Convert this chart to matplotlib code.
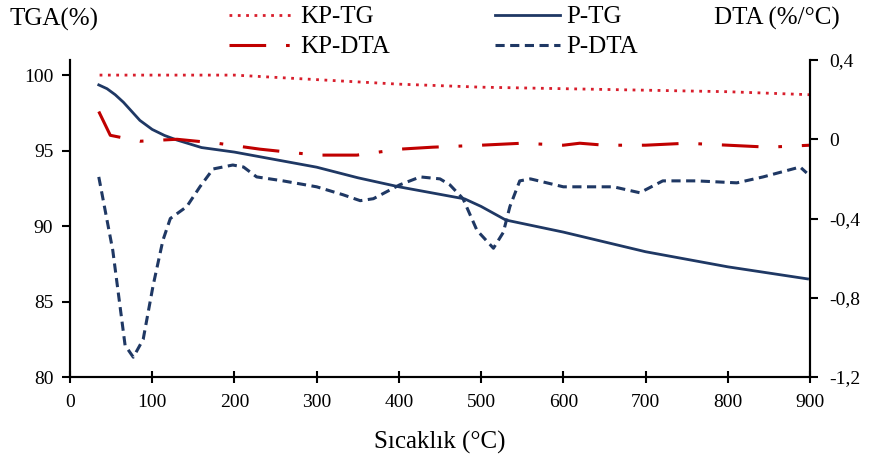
import numpy as np
import matplotlib
matplotlib.use("Agg")
import matplotlib.pyplot as plt

# =========================
# DONNÉES
# =========================
kp_tg_t = [36, 100, 200, 300, 400, 500, 600, 700, 800, 900]
kp_tg_v = [100.0, 100.0, 100.0, 99.7, 99.4, 99.2, 99.1, 99.0, 98.9, 98.7]

p_tg_t = [35, 45, 55, 65, 75, 85, 100, 115, 130, 160, 200, 250, 300, 350,
          400, 450, 480, 500, 530, 600, 700, 800, 897]
p_tg_v = [99.35, 99.1, 98.7, 98.2, 97.6, 97.0, 96.4, 96.0, 95.7, 95.2, 94.9,
          94.4, 93.9, 93.2, 92.6, 92.1, 91.8, 91.3, 90.4, 89.6, 88.3, 87.3,
          86.5]

kp_dta_t = [35, 49, 85, 130, 179, 231, 300, 349, 401, 441, 500, 550, 600,
            620, 650, 700, 750, 800, 850, 900]
kp_dta_v = [0.14, 0.02, -0.01, 0.0, -0.02, -0.05, -0.08, -0.08, -0.05, -0.04,
            -0.03, -0.02, -0.03, -0.02, -0.03, -0.03, -0.02, -0.03, -0.04, -0.03]

p_dta_t = [35, 52, 67, 77, 89, 101, 113, 122, 142, 158, 174, 198, 211, 227,
           259, 300, 332, 353, 369, 401, 426, 450, 462, 478, 495, 515, 527,
           535, 547, 560, 600, 661, 693, 721, 762, 811, 843, 888, 896]
p_dta_v = [-0.19, -0.56, -1.04, -1.10, -1.01, -0.74, -0.51, -0.40, -0.34,
           -0.24, -0.15, -0.13, -0.14, -0.19, -0.21, -0.24, -0.28, -0.31,
           -0.30, -0.23, -0.19, -0.20, -0.23, -0.30, -0.46, -0.55, -0.47,
           -0.34, -0.21, -0.20, -0.24, -0.24, -0.27, -0.21, -0.21, -0.22,
           -0.19, -0.14, -0.17]

x_ticks = [0, 100, 200, 300, 400, 500, 600, 700, 800, 900]
left_ticks = [80, 85, 90, 95, 100]
right_ticks = [-1.2, -0.8, -0.4, 0, 0.4]
right_labels = ["-1,2", "-0,8", "-0,4", "0", "0,4"]

RED_DOT = "#D81E2C"
RED = "#C00000"
NAVY = "#1F3864"

plt.rcParams["font.family"] = ["Liberation Serif", "DejaVu Serif"]
plt.rcParams["font.size"] = 14

fig = plt.figure(figsize=(8.75, 4.63), dpi=100)
ax = fig.add_axes([0.08, 0.1857, 0.8457, 0.6847])
ax2 = ax.twinx()

l1, = ax.plot(kp_tg_t, kp_tg_v, color=RED_DOT, lw=2, linestyle=(0, (1, 2)),
              label="KP-TG")
l3, = ax.plot(p_tg_t, p_tg_v, color=NAVY, lw=2, label="P-TG")
l2, = ax2.plot(kp_dta_t, kp_dta_v, color=RED, lw=2.2,
               linestyle=(0, (12, 6.5, 1.2, 6.5)), label="KP-DTA")
l4, = ax2.plot(p_dta_t, p_dta_v, color=NAVY, lw=2.2,
               linestyle=(0, (3, 1.8)), label="P-DTA")

ax.set_xlim(0, 900)
ax.set_ylim(80, 101)
ax2.set_ylim(-1.2, 0.4)
ax.set_xticks(x_ticks)
ax.set_yticks(left_ticks)
ax2.set_yticks(right_ticks)
ax2.set_yticklabels(right_labels)

for a in (ax, ax2):
    a.spines["top"].set_visible(False)
    for s in a.spines.values():
        s.set_linewidth(1.5)
ax.tick_params(axis="x", direction="inout", length=9, width=1.5, pad=8)
ax.tick_params(axis="y", direction="out", length=6, width=1.5, pad=6)
ax2.tick_params(axis="y", direction="out", length=6, width=1.5, pad=8)

ax.set_xlabel("Sıcaklık (°C)", fontsize=18, labelpad=14)
fig.text(0.011, 0.957, "TGA(%)", ha="left", va="center", fontsize=18)
fig.text(0.96, 0.96, "DTA (%/°C)", ha="right", va="center", fontsize=18)

fig.legend(handles=[l1, l2, l3, l4], ncol=2, frameon=False, fontsize=18,
           loc="upper left", bbox_to_anchor=(0.26, 0.99),
           handlelength=2.6, handletextpad=0.25, columnspacing=4.2,
           labelspacing=0.3, borderpad=0.05, borderaxespad=0)

fig.savefig("out.png", dpi=100)
